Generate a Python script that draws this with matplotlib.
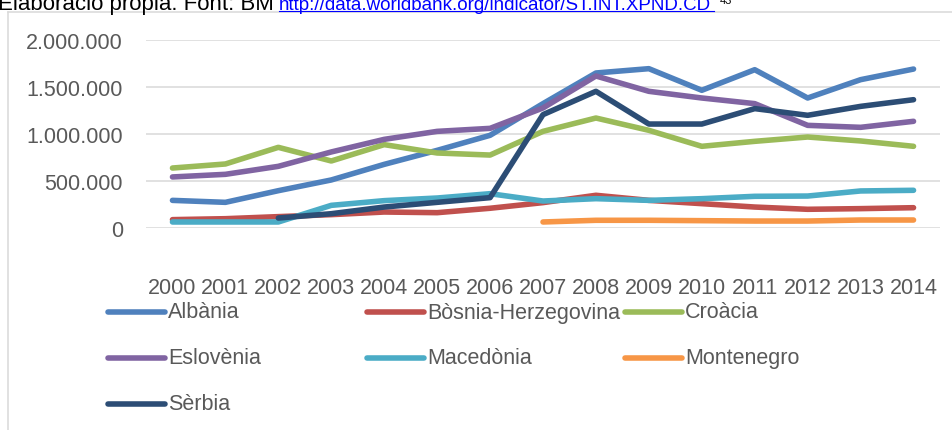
import numpy as np
import matplotlib.pyplot as plt
from matplotlib.lines import Line2D

nan = np.nan

years = [str(y) for y in range(2000, 2015)]

albania = [294000, 273000, 397000, 511000, 677000, 826000, 986000, 1323000,
           1649000, 1695000, 1465000, 1684000, 1383000, 1578000, 1691000]
bosnia = [89000, 99000, 121000, 142000, 170000, 163000, 210000, 270000,
          348000, 294000, 259000, 223000, 199000, 206000, 216000]
croacia = [638000, 681000, 858000, 713000, 887000, 798000, 776000, 1028000,
           1170000, 1039000, 869000, 922000, 968000, 926000, 869000]
eslovenia = [543000, 571000, 656000, 809000, 943000, 1028000, 1060000, 1277000,
             1617000, 1454000, 1383000, 1323000, 1092000, 1071000, 1135000]
macedonia = [64000, 64000, 64000, 241000, 291000, 319000, 365000, 287000,
             312000, 294000, 312000, 337000, 340000, 394000, 401000]
montenegro = [nan, nan, nan, nan, nan, nan, nan, 64000,
              82000, 82000, 78000, 74000, 74000, 85000, 85000]
serbia = [nan, nan, 106000, 152000, 223000, 273000, 323000, 1206000,
          1454000, 1106000, 1106000, 1270000, 1199000, 1294000, 1365000]

names = ["Albània", "Bòsnia-Herzegovina", "Croàcia", "Eslovènia",
         "Macedònia", "Montenegro", "Sèrbia"]
series = [albania, bosnia, croacia, eslovenia, macedonia, montenegro, serbia]
colors = ["#4F81BD", "#C0504D", "#9BBB59", "#8064A2", "#4BACC6", "#F79646", "#2C4D75"]

W, H = 953, 431
fig = plt.figure(figsize=(W / 100, H / 100), dpi=100)

def fx(x):
    return x / W

def fy(y):
    return 1 - y / H

font = "Liberation Sans"
txt_col = "#595959"

# chart border (only top and left visible)
fig.add_artist(Line2D([fx(8.5), fx(8.5)], [fy(12.5), 0], color="#D9D9D9", lw=1.1))
fig.add_artist(Line2D([fx(8.5), 1], [fy(12.5), fy(12.5)], color="#D9D9D9", lw=1.1))

# header caption, cut off at the top like in the source
fig.text(fx(-2), fy(10), "Elaboració pròpia. Font: BM ", family=font, fontsize=16,
         color="black", va="baseline", ha="left")
fig.text(fx(279), fy(10), "http://data.worldbank.org/indicator/ST.INT.XPND.CD",
         family=font, fontsize=13.5, color="#0000FF", va="baseline", ha="left")
fig.add_artist(Line2D([fx(279), fx(714)], [fy(11.5), fy(11.5)], color="#0000FF", lw=0.8))
fig.text(fx(720), fy(4), "43", family=font, fontsize=8, color="black",
         va="baseline", ha="left")

ax = fig.add_axes([fx(146), fy(229), (940 - 146) / W, (229 - 41) / H])
x = np.arange(len(years))
for vals, name, c in zip(series, names, colors):
    ax.plot(x, vals, color=c, lw=4, solid_capstyle="round",
            solid_joinstyle="round", label=name)

ax.set_xlim(-0.5, len(years) - 0.5)
ax.set_ylim(0, 2000000)
ax.set_yticks([0, 500000, 1000000, 1500000, 2000000])
ax.set_yticklabels(["0", "500.000", "1.000.000", "1.500.000", "2.000.000"])
ax.set_xticks(x)
ax.set_xticklabels(years)
ax.grid(axis="y", color="#D9D9D9", lw=1.1)
ax.set_axisbelow(True)
for s in ax.spines.values():
    s.set_visible(False)
ax.tick_params(axis="y", length=0, pad=16.5, labelsize=15.5, labelcolor=txt_col)
ax.tick_params(axis="x", length=0, pad=35.5, labelsize=15.5, labelcolor=txt_col)
for lab in ax.get_xticklabels() + ax.get_yticklabels():
    lab.set_family(font)

# legend, three equal columns
col_x = [108, 367, 625]
row_y = [313, 359, 405]
for i, (name, c) in enumerate(zip(names, colors)):
    cx = col_x[i % 3]
    ry = row_y[i // 3]
    fig.add_artist(Line2D([fx(cx), fx(cx + 57)], [fy(ry), fy(ry)], color=c,
                          lw=4, solid_capstyle="round"))
    fig.text(fx(cx + 60), fy(ry), name, family=font, fontsize=15.5,
             color=txt_col, va="center", ha="left")

fig.savefig("out.png", dpi=100)
